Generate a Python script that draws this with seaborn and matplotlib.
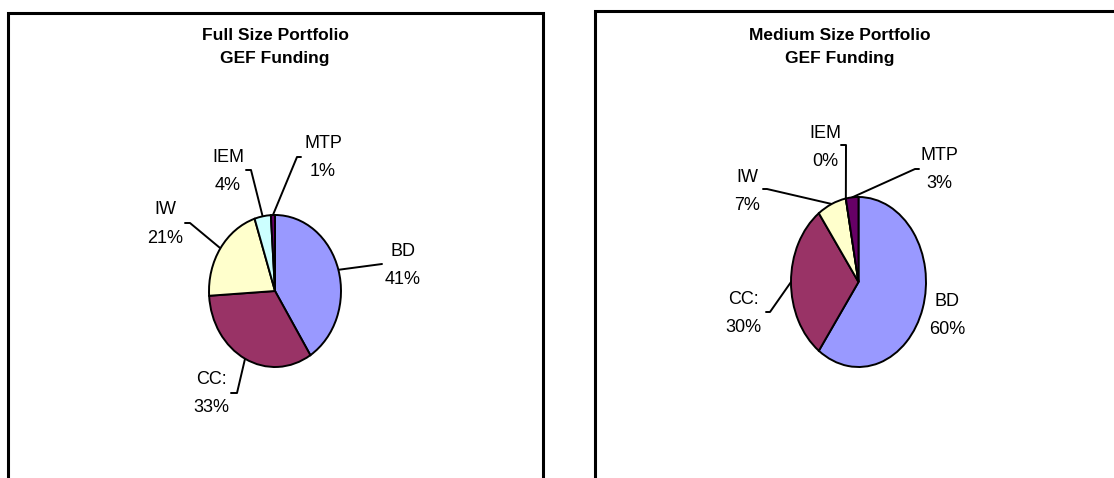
import numpy as np
import seaborn as sns
import matplotlib.pyplot as plt

# data
areas = ["BD", "CC:", "IW", "IEM", "MTP"]
full_size = [41, 33, 21, 4, 1]
medium_size = [60, 30, 7, 0, 3]
colors = ["#9999FF", "#993366", "#FFFFCC", "#CCFFFF", "#660066"]

sns.set_theme(style="white")
plt.rcParams['font.family'] = ['Liberation Sans', 'DejaVu Sans']
plt.rcParams['text.color'] = 'black'

W, H = 1114, 478
fig = plt.figure(figsize=(W / 100, H / 100), dpi=100)
ov = fig.add_axes([0, 0, 1, 1])
ov.set_xlim(0, W)
ov.set_ylim(H, 0)
ov.axis('off')

# panel layout (pixels): pie centre, radii, label centres and leader knees
panels = [
    dict(title=["Full Size Portfolio", "GEF Funding"], values=full_size,
         box=(8, 543, 13), title_xy=(275, 46), centre=(275, 291), radii=(66, 76),
         labels=[(403, 266), (211, 394), (165, 224), (228, 172), (323, 157)],
         knees=[(382, 264), (237, 393), (190, 223), (251, 170), (297, 157)],
         tails=[0, -6, -5, -5, 4]),
    dict(title=["Medium Size Portfolio", "GEF Funding"], values=medium_size,
         box=(595, 1130, 11), title_xy=(840, 46), centre=(858.5, 282), radii=(67.5, 85),
         labels=[(947, 315), (743, 314), (747, 191), (825, 147), (939, 169)],
         knees=[None, (770, 312), (767, 189), (846, 145), (915, 169)],
         tails=[0, -4, -4, -5, 4]),
]

for p in panels:
    x0, x1, top = p["box"]
    ov.plot([x0, x0, x1, x1], [H + 5, top, top, H + 5], color="black", lw=2.2,
            solid_joinstyle="miter", clip_on=False)
    tx, ty = p["title_xy"]
    ov.text(tx, ty - 11, p["title"][0], ha="center", va="center",
            fontsize=12.5, fontweight="bold", color="black")
    ov.text(tx, ty + 12, p["title"][1], ha="center", va="center",
            fontsize=12.5, fontweight="bold", color="black")

    cx, cy = p["centre"]
    rx, ry = p["radii"]
    ax = fig.add_axes([(cx - rx) / W, 1 - (cy + ry) / H, 2 * rx / W, 2 * ry / H])
    wedges, _ = ax.pie(p["values"], colors=colors, startangle=90, counterclock=False,
                       wedgeprops=dict(edgecolor="black", linewidth=1.4))
    for w in wedges:
        w.set_clip_on(False)
    ax.set_xlim(-1, 1)
    ax.set_ylim(-1, 1)
    ax.set_aspect("auto")
    ax.patch.set_visible(False)

    vals = np.array(p["values"], dtype=float)
    frac = np.cumsum(vals) / vals.sum()
    mids = frac - vals / vals.sum() / 2
    for i, name in enumerate(areas):
        lx, ly = p["labels"][i]
        ov.text(lx, ly - 14, name, ha="center", va="center", fontsize=13, color="black")
        ov.text(lx, ly + 14, f"{p['values'][i]:.0f}%", ha="center", va="center",
                fontsize=13, color="black")
        knee = p["knees"][i]
        if knee is None:
            continue
        theta = np.deg2rad(90 - mids[i] * 360)
        sx, sy = cx + rx * np.cos(theta), cy - ry * np.sin(theta)
        xs = [sx, knee[0]]
        ys = [sy, knee[1]]
        if p["tails"][i]:
            xs.append(knee[0] + p["tails"][i])
            ys.append(knee[1])
        ov.plot(xs, ys, color="black", lw=1.4, zorder=5)

fig.savefig("out.png", dpi=100)
